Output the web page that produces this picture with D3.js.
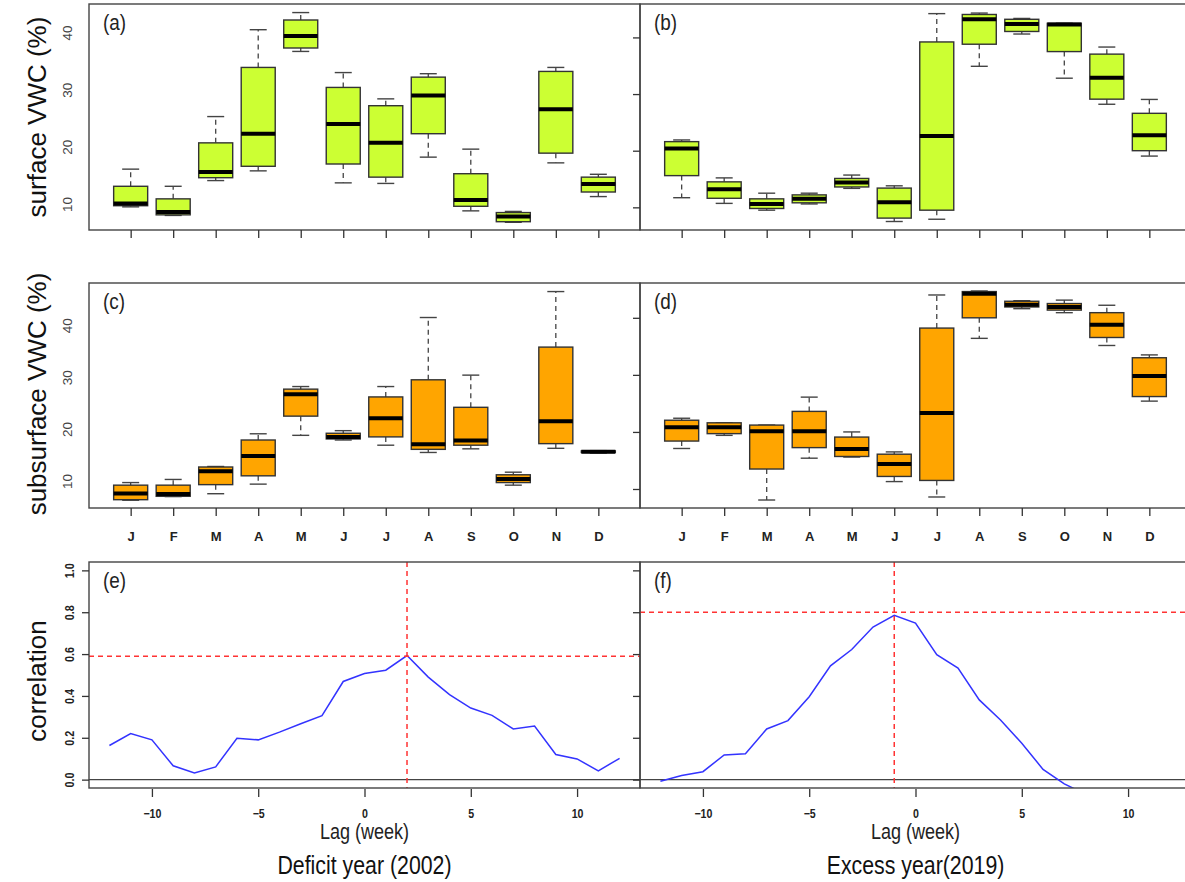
<!DOCTYPE html>
<html lang="en">
<head>
<meta charset="utf-8">
<title>VWC boxplots and lag correlation</title>
<script src="https://d3js.org/d3.v7.min.js"></script>
<style>
  body { margin: 0; background: #fff; }
  svg { display: block; font-family: "Liberation Sans", Arial, sans-serif; }
  .frame { fill: none; stroke: #444; stroke-width: 1.4; }
</style>
</head>
<body>
<script>
// ---- data ----
var months = ["J", "F", "M", "A", "M", "J", "J", "A", "S", "O", "N", "D"];

// [min, q1, median, q3, max] per month
var surfaceDeficit = [
  [9.5, 9.7, 10.1, 13.1, 16.1],
  [8.0, 8.1, 8.6, 10.9, 13.1],
  [14.1, 14.6, 15.6, 20.7, 25.3],
  [15.8, 16.6, 22.3, 33.9, 40.5],
  [36.7, 37.3, 39.4, 42.2, 43.5],
  [13.7, 17.0, 24.0, 30.4, 33.0],
  [13.6, 14.7, 20.7, 27.2, 28.4],
  [18.2, 22.3, 29.0, 32.2, 32.8],
  [8.8, 9.6, 10.7, 15.3, 19.6],
  [6.8, 6.9, 7.8, 8.5, 8.7],
  [17.2, 18.9, 26.6, 33.2, 33.9],
  [11.3, 12.1, 13.5, 14.7, 15.2]
];
var surfaceExcess = [
  [11.7, 15.6, 20.4, 21.6, 21.9],
  [10.7, 11.6, 13.2, 14.5, 15.2],
  [9.5, 9.8, 10.6, 11.5, 12.5],
  [10.6, 10.8, 11.5, 12.2, 12.5],
  [13.35, 13.6, 14.4, 15.1, 15.7],
  [7.5, 8.1, 10.9, 13.4, 13.8],
  [7.9, 9.5, 22.6, 39.2, 44.2],
  [34.9, 38.8, 43.2, 44.05, 44.3],
  [40.6, 41.05, 42.35, 43.2, 43.35],
  [32.8, 37.5, 42.3, 42.5, 42.5],
  [28.2, 29.1, 32.9, 37.05, 38.3],
  [19.05, 20.0, 22.75, 26.6, 29.05]
];
var subsurfaceDeficit = [
  [6.3, 6.4, 7.6, 9.2, 9.7],
  [7.0, 7.05, 7.5, 9.2, 10.3],
  [7.55, 9.3, 11.9, 12.7, 12.8],
  [9.4, 11.0, 14.8, 17.9, 19.1],
  [18.8, 22.5, 26.7, 27.7, 28.2],
  [17.9, 18.1, 18.5, 19.2, 19.7],
  [16.9, 18.5, 22.1, 26.2, 28.2],
  [15.5, 16.1, 17.1, 29.5, 41.5],
  [16.2, 16.9, 17.8, 24.2, 30.4],
  [9.2, 9.7, 10.4, 11.2, 11.7],
  [16.3, 17.2, 21.5, 35.8, 46.5],
  [15.4, 15.5, 15.65, 15.8, 15.85]
];
var subsurfaceExcess = [
  [17.1, 18.4, 20.8, 22.05, 22.4],
  [19.4, 19.7, 20.8, 21.6, 21.6],
  [8.07, 13.5, 20.1, 21.2, 21.2],
  [15.4, 17.25, 20.1, 23.6, 26.1],
  [15.6, 15.7, 17.0, 19.1, 20.0],
  [11.3, 12.2, 14.4, 16.1, 16.5],
  [8.6, 11.5, 23.3, 38.2, 44.0],
  [36.4, 40.0, 44.2, 44.6, 44.7],
  [41.6, 41.9, 42.3, 42.9, 43.0],
  [40.9, 41.35, 41.9, 42.5, 43.1],
  [35.15, 36.55, 38.8, 40.9, 42.2],
  [25.4, 26.2, 29.8, 33.0, 33.5]
];

var lagsDeficit = [-12, -11, -10, -9, -8, -7, -6, -5, -4, -3, -2, -1, 0, 1, 2, 3, 4, 5, 6, 7, 8, 9, 10, 11, 12];
var corrDeficit = [0.163, 0.22, 0.19, 0.066, 0.032, 0.061, 0.198, 0.19, 0.227, 0.267, 0.306, 0.469, 0.507,
                   0.523, 0.593, 0.49, 0.406, 0.342, 0.307, 0.242, 0.256, 0.12, 0.099, 0.042, 0.102];
var lagsExcess = [-12, -11, -10, -9, -8, -7, -6, -5, -4, -3, -2, -1, 0, 1, 2, 3, 4, 5, 6, 7, 8];
var corrExcess = [-0.008, 0.02, 0.038, 0.118, 0.124, 0.242, 0.282, 0.396, 0.544, 0.622, 0.729, 0.785, 0.748,
                  0.597, 0.533, 0.381, 0.285, 0.174, 0.049, -0.02, -0.07];
var peakDeficit = [2, 0.59];   // [lag, correlation]
var peakExcess = [-1, 0.80];

var vwcTicks = [10, 20, 30, 40];
var corrTicks = [0, 0.2, 0.4, 0.6, 0.8, 1.0];
var lagTicks = [-10, -5, 0, 5, 10];

// ---- layout ----
var width = 1185, height = 882;
var rows = [{top: 4, bottom: 230}, {top: 283, bottom: 508}, {top: 562, bottom: 788}];
var cols = [{left: 89, right: 640}, {left: 640, right: 1191}];

var svg = d3.select("body").append("svg")
    .attr("width", width)
    .attr("height", height);

function boxPanel(r, c, data, ylim, fill, label, showYLabels, showMonths) {
  var row = rows[r], col = cols[c];
  var x = d3.scaleLinear().domain([0.02, 12.98]).range([col.left, col.right]);
  var y = d3.scaleLinear().domain(ylim).range([row.bottom, row.top]);
  var g = svg.append("g");
  var half = (x(1.4) - x(0.6)) / 2, cap = half / 2;

  var b = g.selectAll("g.box").data(data).enter().append("g")
      .attr("class", "box")
      .attr("transform", function(d, i) { return "translate(" + x(i + 1) + ",0)"; });

  // whiskers
  b.append("line").attr("y1", function(d) { return y(d[3]); }).attr("y2", function(d) { return y(d[4]); })
      .attr("stroke", "#444").attr("stroke-width", 1.3).attr("stroke-dasharray", "5,4");
  b.append("line").attr("y1", function(d) { return y(d[1]); }).attr("y2", function(d) { return y(d[0]); })
      .attr("stroke", "#444").attr("stroke-width", 1.3).attr("stroke-dasharray", "5,4");
  // caps
  [0, 4].forEach(function(k) {
    b.append("line").attr("x1", -cap).attr("x2", cap)
        .attr("y1", function(d) { return y(d[k]); }).attr("y2", function(d) { return y(d[k]); })
        .attr("stroke", "#444").attr("stroke-width", 1.4);
  });
  b.append("rect")
      .attr("x", -half).attr("width", 2 * half)
      .attr("y", function(d) { return y(d[3]); })
      .attr("height", function(d) { return Math.max(1, y(d[1]) - y(d[3])); })
      .attr("fill", fill).attr("stroke", "#333").attr("stroke-width", 1.4);
  b.append("line").attr("x1", -half).attr("x2", half)
      .attr("y1", function(d) { return y(d[2]); }).attr("y2", function(d) { return y(d[2]); })
      .attr("stroke", "#000").attr("stroke-width", 4);

  g.append("rect").attr("class", "frame")
      .attr("x", col.left).attr("y", row.top)
      .attr("width", col.right - col.left).attr("height", row.bottom - row.top);

  // y axis
  var ya = g.append("g").attr("transform", "translate(" + col.left + ",0)")
      .call(d3.axisLeft(y).tickValues(vwcTicks).tickSize(showYLabels ? 0 : 7));
  ya.attr("font-family", null);
  ya.select(".domain").remove();
  ya.selectAll("line").attr("stroke", "#333").attr("stroke-width", 1.3);
  if (showYLabels) {
    ya.selectAll("text")
        .attr("x", null).attr("dy", null).attr("y", null)
        .attr("transform", "translate(-17,0) rotate(-90)")
        .attr("text-anchor", "middle")
        .attr("fill", "#444").attr("font-size", 13.5);
  } else {
    ya.selectAll("text").remove();
  }

  // x axis
  var xa = g.append("g").attr("transform", "translate(0," + row.bottom + ")")
      .call(d3.axisBottom(x).tickValues(d3.range(1, 13)).tickSize(8)
        .tickFormat(function(d) { return months[d - 1]; }));
  xa.attr("font-family", null);
  xa.select(".domain").remove();
  xa.selectAll("line").attr("stroke", "#333").attr("stroke-width", 1.3);
  if (showMonths) {
    xa.selectAll("text").attr("dy", null).attr("y", 33)
        .attr("font-size", 13).attr("font-weight", "bold").attr("fill", "#222");
  } else {
    xa.selectAll("text").remove();
  }

  g.append("text")
      .attr("transform", "translate(" + (col.left + 14) + "," + (row.top + 26) + ") scale(0.9,1.05)")
      .attr("font-size", 21).attr("fill", "#222").text(label);
}

boxPanel(0, 0, surfaceDeficit, [5.45, 45.0], "#CCFF33", "(a)", true, false);
boxPanel(0, 1, surfaceExcess, [6.0, 45.9], "#CCFF33", "(b)", false, false);
boxPanel(1, 0, subsurfaceDeficit, [4.8, 48.15], "#FFA500", "(c)", true, true);
boxPanel(1, 1, subsurfaceExcess, [6.67, 46.1], "#FFA500", "(d)", false, true);

function corrPanel(c, lags, corr, peak, label, showYLabels, title) {
  var row = rows[2], col = cols[c];
  var x = d3.scaleLinear().domain([-12.96, 12.96]).range([col.left, col.right]);
  var y = d3.scaleLinear().domain([-0.04, 1.04]).range([row.bottom, row.top]);
  var g = svg.append("g");
  var clipId = "clip" + c;
  g.append("clipPath").attr("id", clipId).append("rect")
      .attr("x", col.left).attr("y", row.top)
      .attr("width", col.right - col.left).attr("height", row.bottom - row.top);

  var plot = g.append("g").attr("clip-path", "url(#" + clipId + ")");
  plot.append("line").attr("x1", col.left).attr("x2", col.right)
      .attr("y1", y(0)).attr("y2", y(0)).attr("stroke", "#444").attr("stroke-width", 1.4);
  plot.append("path")
      .datum(lags.map(function(l, i) { return [l, corr[i]]; }))
      .attr("fill", "none").attr("stroke", "#3333FF").attr("stroke-width", 1.5)
      .attr("d", d3.line().x(function(d) { return x(d[0]); }).y(function(d) { return y(d[1]); }));
  plot.append("line").attr("x1", col.left).attr("x2", col.right)
      .attr("y1", y(peak[1])).attr("y2", y(peak[1]))
      .attr("stroke", "#FF3333").attr("stroke-width", 1.5).attr("stroke-dasharray", "5,4");
  plot.append("line").attr("x1", x(peak[0])).attr("x2", x(peak[0]))
      .attr("y1", row.top).attr("y2", row.bottom)
      .attr("stroke", "#FF3333").attr("stroke-width", 1.5).attr("stroke-dasharray", "5,4");

  g.append("rect").attr("class", "frame")
      .attr("x", col.left).attr("y", row.top)
      .attr("width", col.right - col.left).attr("height", row.bottom - row.top);

  var ya = g.append("g").attr("transform", "translate(" + col.left + ",0)")
      .call(d3.axisLeft(y).tickValues(corrTicks).tickSize(7).tickFormat(d3.format(".1f")));
  ya.attr("font-family", null);
  ya.select(".domain").remove();
  ya.selectAll("line").attr("stroke", "#333").attr("stroke-width", 1.3);
  if (showYLabels) {
    ya.selectAll("text")
        .attr("x", null).attr("dy", null).attr("y", null)
        .attr("transform", "translate(-15,0) rotate(-90) scale(0.9,1)")
        .attr("text-anchor", "middle")
        .attr("font-size", 12).attr("font-weight", "bold").attr("fill", "#222");
  } else {
    ya.selectAll("text").remove();
  }

  var xa = g.append("g").attr("transform", "translate(0," + (row.bottom + 1) + ")")
      .call(d3.axisBottom(x).tickValues(lagTicks).tickSize(8));
  xa.attr("font-family", null);
  xa.select(".domain").remove();
  xa.selectAll("line").attr("stroke", "#333").attr("stroke-width", 1.3);
  xa.selectAll("text").attr("dy", null).attr("y", null)
      .attr("transform", "translate(0,29) scale(0.85,1)")
      .attr("font-size", 12.5).attr("font-weight", "bold").attr("fill", "#222");

  var mid = x(0);
  g.append("text")
      .attr("transform", "translate(" + mid + ",839) scale(0.82,1)")
      .attr("text-anchor", "middle").attr("font-size", 22).attr("fill", "#222").text("Lag (week)");
  g.append("text")
      .attr("transform", "translate(" + mid + ",874) scale(0.82,1)")
      .attr("text-anchor", "middle").attr("font-size", 26).attr("fill", "#111").text(title);

  g.append("text")
      .attr("transform", "translate(" + (col.left + 14) + "," + (row.top + 26) + ") scale(0.9,1.05)")
      .attr("font-size", 21).attr("fill", "#222").text(label);
}

corrPanel(0, lagsDeficit, corrDeficit, peakDeficit, "(e)", true, "Deficit year (2002)");
corrPanel(1, lagsExcess, corrExcess, peakExcess, "(f)", false, "Excess year(2019)");

// y-axis titles
[["surface VWC (%)", 117], ["subsurface VWC (%)", 394], ["correlation", 681]].forEach(function(t) {
  svg.append("text")
      .attr("transform", "translate(46," + t[1] + ") rotate(-90)")
      .attr("text-anchor", "middle")
      .attr("font-size", 26).attr("fill", "#111")
      .text(t[0]);
});
</script>
</body>
</html>
